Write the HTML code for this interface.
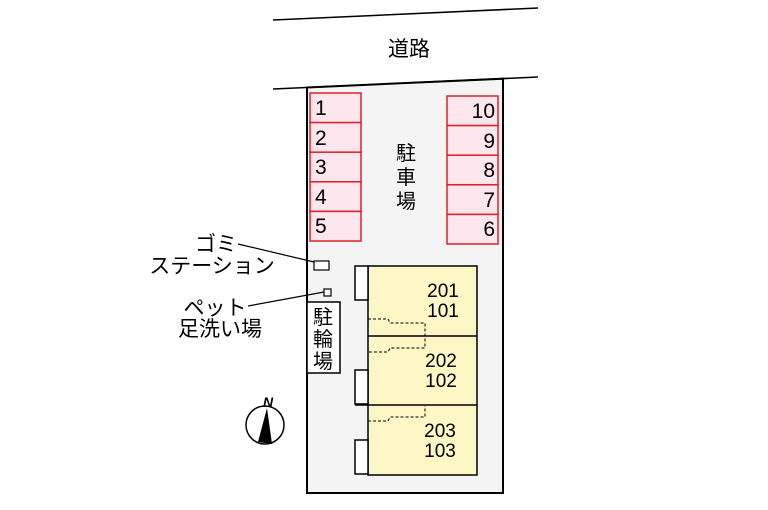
<!DOCTYPE html>
<html><head><meta charset="utf-8"><style>
body{margin:0;background:#fff;}
svg{display:block;}
text{font-family:"Liberation Sans","Noto Sans CJK JP",sans-serif;fill:#000;}
</style></head><body>
<svg width="768" height="510" viewBox="0 0 768 510" xmlns="http://www.w3.org/2000/svg">
<line x1="273" y1="20" x2="538" y2="8" stroke="#000" stroke-width="1.5"/>
<line x1="273" y1="89" x2="538" y2="77" stroke="#000" stroke-width="1.5"/>
<text x="409" y="56" font-size="21" text-anchor="middle">道路</text>
<polygon points="307,87.5 503,78.7 503,493 307,493" fill="#f4f4f4" stroke="#000" stroke-width="2"/>
<g fill="#fde6ee" stroke="#e0202a" stroke-width="1.5">
<rect x="310" y="93" width="51" height="29.6"/><rect x="310" y="122.6" width="51" height="29.6"/><rect x="310" y="152.2" width="51" height="29.6"/><rect x="310" y="181.8" width="51" height="29.6"/><rect x="310" y="211.4" width="51" height="29.6"/>
<rect x="447" y="96" width="51" height="29.6"/><rect x="447" y="125.6" width="51" height="29.6"/><rect x="447" y="155.2" width="51" height="29.6"/><rect x="447" y="184.8" width="51" height="29.6"/><rect x="447" y="214.4" width="51" height="29.6"/>
</g>
<g font-size="21">
<text x="315" y="115">1</text><text x="315" y="145">2</text><text x="315" y="174">3</text><text x="315" y="204">4</text><text x="315" y="233">5</text>
<text x="495" y="118" text-anchor="end">10</text><text x="495" y="148" text-anchor="end">9</text><text x="495" y="177" text-anchor="end">8</text><text x="495" y="207" text-anchor="end">7</text><text x="495" y="236" text-anchor="end">6</text>
</g>
<g font-size="20" text-anchor="middle"><text x="406" y="160">駐</text><text x="406" y="184">車</text><text x="406" y="208">場</text></g>
<rect x="368" y="266" width="109" height="209" fill="#fdf7c6" stroke="#000" stroke-width="1.5"/>
<line x1="368" y1="336" x2="477" y2="336" stroke="#000" stroke-width="1.5"/>
<line x1="355" y1="405" x2="477" y2="405" stroke="#000" stroke-width="1.5"/>
<g fill="#fff" stroke="#000" stroke-width="1.5">
<rect x="355" y="266" width="13" height="34"/><rect x="355" y="370" width="13" height="34"/><rect x="355" y="440" width="13" height="34"/>
</g>
<g fill="none" stroke="#000" stroke-width="1" stroke-dasharray="3,2">
<polyline points="368,319 388,319 390,323 425,323 425,348 390,348 388,352 368,352"/>
<polyline points="368,421 388,421 390,417 425,417 425,406"/>
</g>
<g font-size="19" text-anchor="middle">
<text x="443" y="297">201</text><text x="443" y="317">101</text>
<text x="441" y="367">202</text><text x="441" y="387">102</text>
<text x="440" y="437">203</text><text x="440" y="457">103</text>
</g>
<rect x="307" y="302" width="33" height="71" fill="#fff" stroke="#000" stroke-width="1.5"/>
<g font-size="20" text-anchor="middle"><text x="323" y="324">駐</text><text x="323" y="346">輪</text><text x="323" y="368">場</text></g>
<rect x="314" y="261" width="15" height="9" fill="#fff" stroke="#000" stroke-width="1.2"/>
<rect x="324" y="289" width="7" height="7" fill="#fff" stroke="#000" stroke-width="1.2"/>
<line x1="238" y1="244" x2="314" y2="262" stroke="#000" stroke-width="1.2"/>
<line x1="248" y1="306" x2="324" y2="292" stroke="#000" stroke-width="1.2"/>
<g font-size="21" text-anchor="middle">
<text x="216" y="251">ゴミ</text><text x="212" y="273">ステーション</text>
<text x="215" y="315">ペット</text><text x="220" y="336">足洗い場</text>
</g>
<circle cx="265" cy="425" r="19" fill="#fff" stroke="#000" stroke-width="1.5"/>
<polygon points="267,408 258,442 272,444" fill="#000"/>
<text x="268" y="407" font-size="14" font-weight="bold" font-style="italic" text-anchor="middle">N</text>
</svg>
</body></html>
